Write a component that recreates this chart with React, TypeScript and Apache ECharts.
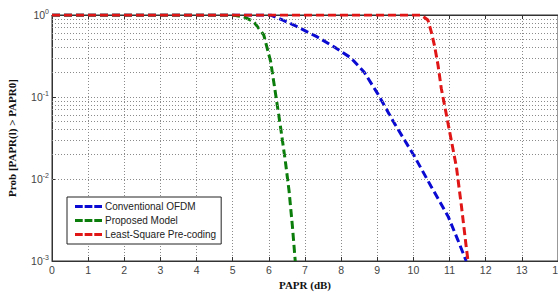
import React, { useEffect, useRef } from "react";
import * as echarts from "echarts";

const xTicks = [0, 1, 2, 3, 4, 5, 6, 7, 8, 9, 10, 11, 12, 13, 14];
const decades = [-3, -2, -1];
const minorMults = [2, 3, 4, 5, 6, 7, 8, 9];

const seriesNames = ["Conventional OFDM", "Proposed Model", "Least-Square Pre-coding"];

const ofdmX = [0, 6.05, 6.37, 6.69, 7.34, 7.8, 8.27, 8.64, 9.01, 9.47, 10.03, 10.49, 10.96, 11.23, 11.46];
const ofdmY = [1, 1, 0.87, 0.755, 0.54, 0.41, 0.3, 0.2, 0.11, 0.048, 0.0188, 0.0081, 0.0035, 0.0018, 0.001];

const propX = [0, 5.0, 5.31, 5.58, 5.86, 6.05, 6.19, 6.33, 6.46, 6.56, 6.65, 6.73];
const propY = [1, 1, 0.95, 0.83, 0.57, 0.27, 0.106, 0.041, 0.016, 0.0071, 0.0027, 0.001];

const lsX = [0, 10.21, 10.4, 10.49, 10.58, 10.68, 10.77, 10.86, 11.0, 11.19, 11.33, 11.46, 11.51];
const lsY = [1, 1, 0.87, 0.63, 0.43, 0.246, 0.128, 0.08, 0.038, 0.014, 0.0046, 0.0015, 0.001];

const colors = ["#0a0ad2", "#0a7d0a", "#e01515"];

function pairs(xs: number[], ys: number[]) {
  return xs.map((x, i) => [x, ys[i]]);
}

export default function App() {
  const ref = useRef<HTMLDivElement>(null);
  useEffect(() => {
    document.body.style.margin = "0";
    if (!ref.current) return;
    const chart = echarts.init(ref.current, null, { renderer: "svg" });
    const minorVals: number[] = [];
    decades.forEach((d) => minorMults.forEach((m) => minorVals.push(m * Math.pow(10, d))));
    const dot = { color: "#8a8a8a", width: 1, type: [1, 2] as any };
    const dash = [8, 4];
    const labelFont = "Liberation Sans, Arial, sans-serif";
    chart.setOption({
      animation: false,
      backgroundColor: "#fff",
      grid: {
        left: 52,
        top: 15,
        width: 506,
        height: 246,
        show: true,
        borderColor: "#333",
        borderWidth: 1,
        backgroundColor: "transparent",
        containLabel: false,
        outerBoundsMode: "none",
      },
      legend: {
        orient: "vertical",
        left: 67,
        top: 197,
        backgroundColor: "#fff",
        borderColor: "#222",
        borderWidth: 1,
        borderRadius: 0,
        padding: [3, 5, 3, 8],
        itemGap: 1,
        itemWidth: 27,
        itemHeight: 3,
        icon: "path://M0,0h8v3h-8z M10,0h8v3h-8z M20,0h8v3h-8z",
        textStyle: { fontFamily: labelFont, fontSize: 10, color: "#222", lineHeight: 13, padding: [0, 0, 0, -2] },
        data: seriesNames,
      },
      xAxis: [
        {
          type: "value",
          min: 0,
          max: 14,
          interval: 1,
          name: "PAPR (dB)",
          nameLocation: "middle",
          nameGap: 14,
          nameTextStyle: { fontFamily: "Liberation Serif, Times New Roman, serif", fontWeight: "bold", fontSize: 11, color: "#111" },
          axisLine: { show: true, onZero: false, lineStyle: { color: "#333" } },
          axisTick: { show: true, inside: true, length: 4, lineStyle: { color: "#333" } },
          axisLabel: { margin: 3, fontFamily: labelFont, fontSize: 10.5, color: "#444", hideOverlap: false },
          splitLine: { show: true, lineStyle: dot },
        },
        {
          type: "value",
          position: "top",
          min: 0,
          max: 14,
          interval: 1,
          axisLine: { show: true, lineStyle: { color: "#333" } },
          axisTick: { show: true, inside: true, length: 4, lineStyle: { color: "#333" } },
          axisLabel: { show: false },
          splitLine: { show: false },
        },
      ],
      yAxis: {
        type: "log",
        logBase: 10,
        min: 0.001,
        max: 1,
        name: "Prob [PAPR(l) > PAPR0]",
        nameLocation: "middle",
        nameGap: 35,
        nameTextStyle: { fontFamily: "Liberation Serif, Times New Roman, serif", fontWeight: "bold", fontSize: 11, color: "#111" },
        axisLine: { show: true, lineStyle: { color: "#333" } },
        axisTick: { show: true, inside: true, length: 4, lineStyle: { color: "#333" } },
        axisLabel: {
          margin: 3,
          formatter: (v: number) => `{b|10}{s|${Math.round(Math.log10(v))}}`,
          rich: {
            b: { fontFamily: labelFont, fontSize: 10.5, color: "#444" },
            s: { fontFamily: labelFont, fontSize: 7, color: "#444", padding: [0, 0, 8, 0] },
          },
        },
        splitLine: { show: true, lineStyle: dot },
      },
      series: [
        {
          name: seriesNames[0],
          type: "line",
          data: pairs(ofdmX, ofdmY),
          symbol: "none",
          color: colors[0],
          lineStyle: { width: 3, type: dash, color: colors[0] },
          markLine: {
            silent: true,
            symbol: ["none", "none"],
            label: { show: false },
            lineStyle: dot,
            data: minorVals.map((v) => ({ yAxis: v })),
          },
          z: 3,
        },
        {
          name: seriesNames[1],
          type: "line",
          data: pairs(propX, propY),
          symbol: "none",
          color: colors[1],
          lineStyle: { width: 3, type: dash, color: colors[1] },
          z: 4,
        },
        {
          name: seriesNames[2],
          type: "line",
          data: pairs(lsX, lsY),
          symbol: "none",
          color: colors[2],
          lineStyle: { width: 3, type: dash, color: colors[2] },
          z: 5,
        },
      ],
    });
    return () => chart.dispose();
  }, []);
  return <div ref={ref} style={{ width: 558, height: 293 }} />;
}
